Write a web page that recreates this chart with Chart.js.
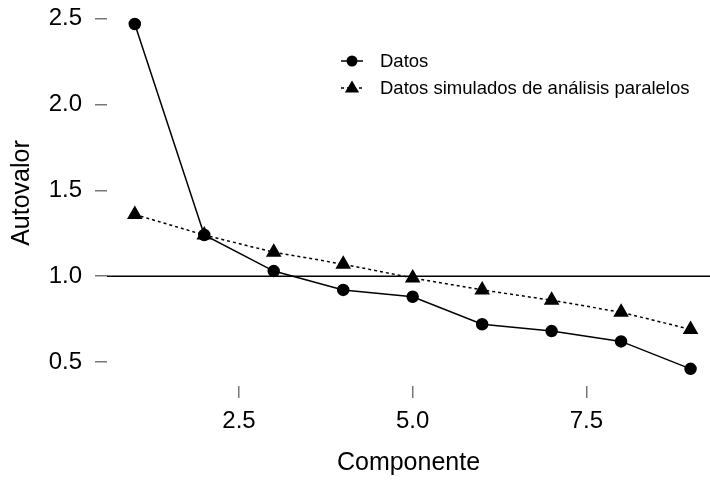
<!DOCTYPE html>
<html>
<head>
<meta charset="utf-8">
<script src="https://cdn.jsdelivr.net/npm/chart.js@4/dist/chart.umd.min.js"></script>
<style>
  html, body { margin: 0; padding: 0; background: #fff; }
  #wrap { width: 710px; height: 480px; }
</style>
</head>
<body>
<div id="wrap"><canvas id="scree" width="710" height="480"></canvas></div>
<script>
// datos del gráfico de sedimentación
const componentes = [1, 2, 3, 4, 5, 6, 7, 8, 9];
const datos = [2.47, 1.24, 1.03, 0.92, 0.88, 0.72, 0.68, 0.62, 0.46];
const simulados = [1.36, 1.24, 1.14, 1.07, 0.99, 0.92, 0.86, 0.79, 0.69];
const yTicks = [0.5, 1.0, 1.5, 2.0, 2.5];
const xTicks = [2.5, 5.0, 7.5];
const referencia = 1.0;

const FONT = "'Liberation Sans', Arial, sans-serif";

// línea horizontal en autovalor = 1
const refLine = {
    id: 'refLine',
    beforeDatasetsDraw(chart) {
        const ctx = chart.ctx;
        const y = chart.scales.y.getPixelForValue(referencia);
        ctx.save();
        ctx.strokeStyle = '#000';
        ctx.lineWidth = 1.5;
        ctx.beginPath();
        ctx.moveTo(chart.chartArea.left, y);
        ctx.lineTo(chart.chartArea.right, y);
        ctx.stroke();
        ctx.restore();
    }
};

// leyenda propia (marcador con trazo)
const legendaPropia = {
    id: 'legendaPropia',
    afterDraw(chart) {
        const ctx = chart.ctx;
        const x0 = 352, y0 = 61, rowH = 27;
        ctx.save();
        ctx.font = '18.5px ' + FONT;
        ctx.textBaseline = 'middle';
        ctx.fillStyle = '#000';
        chart.data.datasets.forEach(function(ds, i) {
            const y = y0 + i * rowH;
            ctx.strokeStyle = '#000';
            ctx.lineWidth = 1.5;
            ctx.setLineDash(ds.borderDash || []);
            ctx.beginPath();
            ctx.moveTo(x0 - 11, y);
            ctx.lineTo(x0 + 11, y);
            ctx.stroke();
            ctx.setLineDash([]);
            ctx.beginPath();
            if (ds.pointStyle === 'triangle') {
                const r = 7.5;
                ctx.moveTo(x0, y - r);
                ctx.lineTo(x0 + r * 0.95, y + r * 0.6);
                ctx.lineTo(x0 - r * 0.95, y + r * 0.6);
                ctx.closePath();
            } else {
                ctx.arc(x0, y, 5.5, 0, Math.PI * 2);
            }
            ctx.fill();
            ctx.fillText(ds.label, 380, y + 1);
        });
        ctx.restore();
    }
};

function sinPadding(s) {
    s.paddingTop = 0;
    s.paddingBottom = 0;
    s.paddingLeft = 0;
    s.paddingRight = 0;
}

new Chart(document.getElementById('scree').getContext('2d'), {
    type: 'line',
    data: {
        datasets: [{
            label: 'Datos',
            data: componentes.map((c, i) => ({ x: c, y: datos[i] })),
            borderColor: '#000',
            backgroundColor: '#000',
            borderWidth: 1.5,
            pointStyle: 'circle',
            pointRadius: 5.5,
            pointHoverRadius: 5.5,
            tension: 0,
            clip: false
        }, {
            label: 'Datos simulados de análisis paralelos',
            data: componentes.map((c, i) => ({ x: c, y: simulados[i] })),
            borderColor: '#000',
            backgroundColor: '#000',
            borderWidth: 1.5,
            borderDash: [3, 3],
            pointStyle: 'triangle',
            pointRadius: 7.5,
            pointHoverRadius: 7.5,
            tension: 0,
            clip: false
        }]
    },
    options: {
        responsive: false,
        animation: false,
        layout: { padding: 0, autoPadding: false },
        plugins: {
            legend: { display: false },
            tooltip: { enabled: false }
        },
        scales: {
            x: {
                type: 'linear',
                min: 0.6,
                max: 9.28,
                afterFit: s => { s.height = 94; sinPadding(s); },
                afterBuildTicks: s => { s.ticks = xTicks.map(v => ({ value: v })); },
                border: { display: false },
                grid: { drawOnChartArea: false, drawTicks: true, tickLength: 12, color: '#777', lineWidth: 1.5 },
                ticks: {
                    padding: 9,
                    color: '#000',
                    font: { family: FONT, size: 24 },
                    callback: v => Number(v).toFixed(1)
                },
                title: {
                    display: true,
                    text: 'Componente',
                    color: '#000',
                    font: { family: FONT, size: 25 },
                    padding: { top: 0, bottom: 2 }
                }
            },
            y: {
                type: 'linear',
                min: 0.36,
                max: 2.61,
                afterFit: s => { s.width = 107; sinPadding(s); },
                afterBuildTicks: s => { s.ticks = yTicks.map(v => ({ value: v })); },
                border: { display: false },
                grid: { drawOnChartArea: false, drawTicks: true, tickLength: 12, color: '#777', lineWidth: 1.5 },
                ticks: {
                    padding: 13,
                    color: '#000',
                    font: { family: FONT, size: 24 },
                    callback: v => Number(v).toFixed(1)
                },
                title: {
                    display: true,
                    text: 'Autovalor',
                    color: '#000',
                    font: { family: FONT, size: 25 },
                    padding: { top: 7, bottom: 0 }
                }
            }
        }
    },
    plugins: [refLine, legendaPropia]
});
</script>
</body>
</html>
